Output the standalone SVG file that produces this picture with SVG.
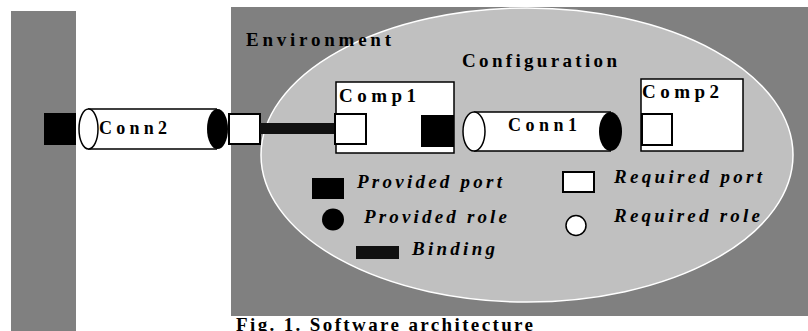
<svg xmlns="http://www.w3.org/2000/svg" width="808" height="331" viewBox="0 0 808 331">
<style>
text{font-family:"Liberation Serif",serif;font-weight:bold;fill:#000}
.i{font-style:italic}
.wp{fill:#fff;stroke:#000;stroke-width:2}
.bp{fill:#000}
.box{fill:#fff;stroke:#000;stroke-width:1.5}
.body{fill:#fff}
.edge{stroke:#000;stroke-width:1.5;fill:none}
</style>
<rect width="808" height="331" fill="#fff"/>
<g id="outside">
<rect x="11" y="11" width="65" height="320" fill="#808080"/>
</g>
<g id="environment">
<rect x="231" y="7" width="577" height="309" fill="#808080"/>
</g>
<g id="configuration">
<ellipse cx="527" cy="155" rx="266" ry="147" fill="#c0c0c0" stroke="#fff" stroke-width="1.5"/>
<text x="462" y="67" font-size="19" textLength="155" lengthAdjust="spacing">Configuration</text>
</g>
<text x="246" y="46" font-size="19" textLength="145" lengthAdjust="spacing">Environment</text>
<g id="conn2">
<rect class="bp" x="44" y="113" width="32" height="32"/>
<rect class="body" x="88" y="109" width="129" height="40"/>
<path class="edge" d="M88,109H217M88,149H217"/>
<ellipse cx="88.5" cy="129" rx="9.5" ry="20" fill="#fff" stroke="#000" stroke-width="1.5"/>
<ellipse cx="217.5" cy="129" rx="10.5" ry="20" fill="#000"/>
<text x="99" y="134" font-size="18" textLength="68" lengthAdjust="spacing">Conn2</text>
<rect class="wp" x="229" y="114" width="31" height="30"/>
</g>
<g id="connectors">
<rect x="260" y="123" width="75" height="11" fill="#111"/>
</g>
<g id="comp1">
<rect class="box" x="336" y="82" width="118" height="71"/>
<text x="339" y="102" font-size="19" textLength="77" lengthAdjust="spacing">Comp1</text>
<rect class="wp" x="335" y="114" width="31" height="30"/>
<rect class="bp" x="421" y="115" width="33" height="32"/>
</g>
<g id="conn1">
<rect class="body" x="474" y="112" width="137" height="39"/>
<path class="edge" d="M474,112H611M474,151H611"/>
<ellipse cx="474" cy="131.5" rx="11" ry="19.5" fill="#fff" stroke="#000" stroke-width="1.5"/>
<ellipse cx="610.5" cy="131.5" rx="11.5" ry="19.5" fill="#000"/>
<text x="508" y="131" font-size="18" textLength="69" lengthAdjust="spacing">Conn1</text>
</g>
<g id="comp2">
<rect class="box" x="641" y="79" width="102" height="72"/>
<text x="642" y="98" font-size="19" textLength="77" lengthAdjust="spacing">Comp2</text>
<rect class="wp" x="642" y="114" width="30" height="31"/>
</g>
<g id="legend">
<rect class="bp" x="312" y="178" width="32" height="21"/>
<text class="i" x="357" y="188" font-size="19" textLength="145" lengthAdjust="spacing">Provided port</text>
<circle cx="333" cy="219.5" r="11" fill="#000"/>
<text class="i" x="364" y="223" font-size="19" textLength="143" lengthAdjust="spacing">Provided role</text>
<rect x="356" y="246" width="43" height="13" fill="#111"/>
<text class="i" x="412" y="255" font-size="19" textLength="83" lengthAdjust="spacing">Binding</text>
<rect class="wp" x="563" y="172" width="31" height="20"/>
<text class="i" x="614" y="183" font-size="19" textLength="148" lengthAdjust="spacing">Required port</text>
<circle cx="576" cy="225.5" r="10" fill="#fff" stroke="#000" stroke-width="1.5"/>
<text class="i" x="614" y="222" font-size="19" textLength="146" lengthAdjust="spacing">Required role</text>
</g>
<text x="236" y="331" font-size="19" textLength="297" lengthAdjust="spacing">Fig. 1. Software architecture</text>
</svg>
